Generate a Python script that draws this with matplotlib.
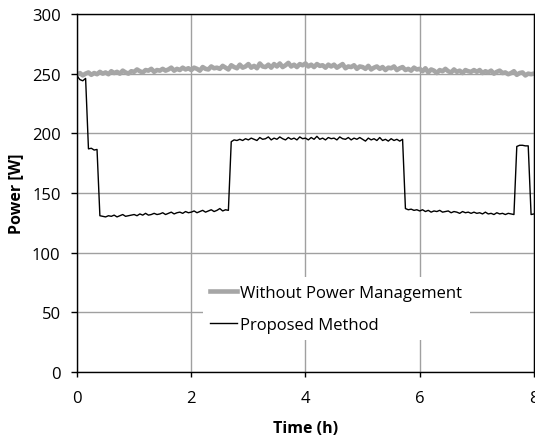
import numpy as np
import matplotlib
matplotlib.use("Agg")
import matplotlib.pyplot as plt

plt.rcParams['font.family'] = ['Open Sans', 'DejaVu Sans']

# sample times, every 0.05 h from 0 to 8
hours = np.round(np.arange(161) * 0.05, 2)

# Without Power Management [W]
no_pm = [
    249, 250.5, 248.5, 250, 251, 249, 250.5, 249.5, 251.5, 250,
    251, 249.5, 252, 250.5, 251.5, 250, 252.5, 251, 250, 252,
    251.5, 253.5, 252, 251, 253, 252.5, 254, 251.5, 253, 252.5,
    254, 252.5, 253.5, 255, 252.5, 254, 253, 255, 253.5, 254.5,
    253, 255, 254, 252.5, 255.5, 254, 253.5, 256, 254.5, 255,
    254, 256.5, 255, 253.5, 257, 255.5, 254.5, 257.5, 255, 256,
    258, 255, 256.5, 254.5, 258.5, 256, 255.5, 257.5, 255, 258,
    256, 258.5, 255.5, 257, 259, 256, 257.5, 255.5, 258, 257,
    258.5, 256, 257.5, 255.5, 258, 256.5, 257, 255, 257.5, 256,
    257.5, 255, 256.5, 258, 254.5, 256, 255.5, 257, 254, 256,
    255.5, 254, 256.5, 253.5, 255, 256, 254, 255.5, 253, 255,
    254.5, 256, 253, 254.5, 255.5, 253, 254, 252.5, 255, 253.5,
    254, 252, 254.5, 251, 253.5, 252.5, 250.5, 253, 252, 254,
    252, 251, 253.5, 251.5, 252.5, 250.5, 253, 252, 251.5, 253,
    251.5, 253, 250.5, 252, 251, 252.5, 250, 251.5, 252.5, 250.5,
    251, 249.5, 250.5, 252, 249, 250.5, 251, 248.5, 250, 249.5,
    250,
]

# Proposed Method [W]
proposed = [
    248, 245, 244, 246, 187, 187.5, 186, 186.5, 131, 130.5,
    130, 131, 130.5, 131.5, 130, 131, 132, 130.5, 131, 131.5,
    132, 131, 132.5, 131.5, 133, 131.5, 132, 133, 132, 132.5,
    133.5, 132, 133, 134, 132.5, 133.5, 134, 133, 134.5, 133.5,
    134, 135, 133.5, 134.5, 135.5, 134, 135, 136, 134.5, 135.5,
    137, 135, 136, 135.5, 193, 194.5, 194, 195, 194, 195.5,
    194.5, 196, 195, 194, 196.5, 195, 195.5, 197, 194.5, 196,
    195, 197, 195.5, 194.5, 196.5, 195, 196, 194.5, 197, 195.5,
    196, 194.5, 196.5, 195, 197.5, 195, 196, 194.5, 196.5, 195.5,
    196, 194.5, 197, 195.5, 195, 196.5, 194.5, 196, 195, 196.5,
    195, 193.5, 196, 194.5, 195.5, 194, 196.5, 194, 195, 193.5,
    195.5, 194, 195, 193.5, 195, 137, 136, 136.5, 135.5, 136,
    135, 136, 134.5, 135.5, 134, 135, 134.5, 135.5, 134, 134.5,
    135, 133.5, 134.5, 134, 133, 134.5, 133.5, 134, 133, 134,
    133, 133.5, 132.5, 134, 132.5, 133, 132, 133.5, 132.5, 133,
    132, 133, 132.5, 132, 189, 190, 190, 189.5, 189.5, 132,
    132.5,
]

fig = plt.figure(figsize=(5.35, 4.39), dpi=100)
ax = fig.add_axes([0.144, 0.150, 0.854, 0.816])

ax.plot(hours, no_pm, color='#a6a6a6', lw=3.3, label='Without Power Management')
ax.plot(hours, proposed, color='black', lw=1.0, label='Proposed Method')

ax.set_xlim(0, 8)
ax.set_ylim(0, 300)
ax.set_xticks([0, 2, 4, 6, 8])
ax.set_yticks(range(0, 301, 50))
ax.grid(True, color='#a0a0a0', lw=1.0)
ax.set_axisbelow(True)
for s in ax.spines.values():
    s.set_color('black')
    s.set_linewidth(1.0)
ax.tick_params(axis='x', labelsize=12, length=3.6, width=1, pad=9.4)
ax.tick_params(axis='y', labelsize=12, length=4.3, width=1, pad=7.5)

ax.set_xlabel('Time (h)', fontweight='bold', fontsize=11.5)
ax.set_ylabel('Power [W]', fontweight='bold', fontsize=11.5)
ax.xaxis.set_label_coords(0.5, -0.156)
ax.xaxis.label.set_va('center')
ax.yaxis.set_label_coords(-0.1335, 0.5)
ax.yaxis.label.set_va('center')

leg = ax.legend(loc='center', bbox_to_anchor=(0.567, 0.177), fontsize=12,
                frameon=True, facecolor='white', edgecolor='none', framealpha=1,
                fancybox=False, handlelength=1.6, handletextpad=0.2,
                labelspacing=0.95, borderpad=0.45, borderaxespad=0)

fig.savefig('out.png', dpi=100)
